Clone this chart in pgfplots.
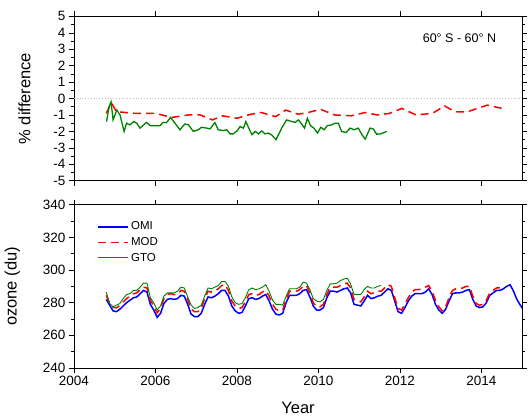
\documentclass[border=0pt]{standalone}
\usepackage{pgfplots}
\pgfplotsset{compat=1.18}
\usepackage{pgfplotstable}
\usepackage{fontspec}
\setmainfont{Liberation Sans}
\definecolor{omiblue}{RGB}{0,0,255}
\definecolor{modred}{RGB}{255,0,0}
\definecolor{gtogreen}{RGB}{0,128,0}

\pgfplotstableread{
t omi mod
2004.792 282.0 284.5
2004.875 278.5 279.5
2004.958 275.0 277.2
2005.042 274.5 276.8
2005.125 276.0 278.3
2005.208 278.0 280.5
2005.292 280.0 282.5
2005.375 281.5 284.0
2005.458 283.0 285.5
2005.542 283.5 286.0
2005.625 285.5 288.0
2005.708 287.5 289.5
2005.792 286.5 289.0
2005.875 279.0 281.5
2005.958 275.5 278.0
2006.042 271.0 273.8
2006.125 273.5 276.5
2006.208 279.5 282.5
2006.292 282.0 285.0
2006.375 282.5 285.5
2006.458 282.0 285.0
2006.542 282.5 285.0
2006.625 284.5 287.5
2006.708 284.0 287.0
2006.792 279.0 282.0
2006.875 273.0 276.0
2006.958 271.5 274.5
2007.042 271.5 274.5
2007.125 273.5 276.5
2007.208 279.0 282.5
2007.292 283.5 287.0
2007.375 283.0 286.5
2007.458 284.0 287.0
2007.542 285.5 288.5
2007.625 287.5 290.5
2007.708 287.5 291.0
2007.792 284.0 287.5
2007.875 278.0 281.0
2007.958 275.0 278.0
2008.042 273.5 276.5
2008.125 274.0 277.0
2008.208 278.0 280.5
2008.292 282.5 285.0
2008.375 283.0 285.5
2008.458 282.0 284.5
2008.542 282.5 285.0
2008.625 284.0 286.5
2008.708 285.0 287.5
2008.792 281.0 284.0
2008.875 276.0 279.0
2008.958 273.0 276.0
2009.042 272.5 275.0
2009.125 273.5 275.5
2009.208 280.0 282.0
2009.292 284.5 287.0
2009.375 284.5 287.0
2009.458 284.5 287.0
2009.542 285.5 288.0
2009.625 287.5 290.0
2009.708 288.0 290.5
2009.792 283.5 286.0
2009.875 278.0 280.0
2009.958 275.5 277.5
2010.042 275.5 277.5
2010.125 277.0 279.0
2010.208 283.0 285.0
2010.292 287.0 289.5
2010.375 287.0 289.5
2010.458 286.5 289.5
2010.542 287.5 290.5
2010.625 288.5 291.5
2010.708 289.0 292.0
2010.792 286.0 289.0
2010.875 279.0 282.0
2010.958 278.5 281.0
2011.042 278.0 280.5
2011.125 281.0 283.5
2011.208 284.5 287.0
2011.292 282.5 285.5
2011.375 283.0 286.0
2011.458 284.0 287.0
2011.542 284.5 287.0
2011.625 286.5 289.0
2011.708 288.5 291.0
2011.792 287.5 290.0
2011.875 281.0 283.0
2011.958 274.5 276.5
2012.042 273.5 275.5
2012.125 277.0 279.0
2012.208 281.0 283.0
2012.292 284.0 286.5
2012.375 285.5 288.0
2012.458 285.5 288.0
2012.542 285.5 288.5
2012.625 286.5 289.5
2012.708 288.5 290.5
2012.792 285.0 287.0
2012.875 279.0 281.5
2012.958 275.5 277.5
2013.042 273.5 275.0
2013.125 276.0 277.5
2013.208 281.0 283.0
2013.292 285.5 287.5
2013.375 286.0 288.5
2013.458 286.0 288.5
2013.542 286.5 289.0
2013.625 287.5 290.0
2013.708 288.0 290.0
2013.792 282.0 284.0
2013.875 278.0 279.5
2013.958 277.0 278.5
2014.042 277.5 279.0
2014.125 280.0 281.5
2014.208 284.5 286.0
2014.292 286.0 287.5
2014.375 287.5 289.0
2014.458 287.5 289.0
2014.542 288.5 nan
2014.625 290.0 nan
2014.708 291.0 nan
2014.792 287.0 nan
2014.875 282.0 nan
2014.958 278.5 nan
2015.042 275.5 nan
}\ozone

\pgfplotstableread{
t gto
2004.792 286.5
2004.875 279.5
2004.958 277.5
2005.042 278.5
2005.125 279.5
2005.208 282.5
2005.292 285.0
2005.375 285.5
2005.458 287.5
2005.542 287.5
2005.625 289.5
2005.708 292.0
2005.792 292.0
2005.875 283.0
2005.958 280.0
2006.042 275.5
2006.125 278.0
2006.208 284.0
2006.292 286.0
2006.375 286.0
2006.458 286.0
2006.542 287.0
2006.625 289.5
2006.708 289.0
2006.792 283.5
2006.875 278.5
2006.958 276.5
2007.042 277.0
2007.125 278.5
2007.208 284.0
2007.292 289.0
2007.375 288.5
2007.458 289.5
2007.542 290.5
2007.625 293.0
2007.708 293.0
2007.792 290.0
2007.875 283.5
2007.958 280.0
2008.042 279.0
2008.125 279.5
2008.208 283.0
2008.292 288.0
2008.375 289.0
2008.458 288.0
2008.542 288.5
2008.625 289.5
2008.708 291.0
2008.792 287.0
2008.875 281.5
2008.958 279.0
2009.042 279.0
2009.125 278.5
2009.208 284.0
2009.292 288.5
2009.375 288.5
2009.458 288.5
2009.542 289.5
2009.625 292.5
2009.708 292.0
2009.792 288.0
2009.875 282.5
2009.958 281.0
2010.042 280.5
2010.125 282.0
2010.208 287.5
2010.292 291.5
2010.375 291.5
2010.458 292.0
2010.542 293.5
2010.625 294.5
2010.708 295.0
2010.792 291.5
2010.875 285.0
2010.958 285.0
2011.042 285.0
2011.125 288.0
2011.208 290.0
2011.292 289.0
2011.375 289.0
2011.458 290.0
2011.542 290.5
}\gtotab

\pgfplotstableread{
t d
2004.792 -0.9
2004.920 -0.25
2005.040 -0.8
2005.500 -0.9
2006.000 -0.9
2006.400 -1.15
2006.800 -1.0
2007.100 -1.0
2007.400 -1.3
2007.650 -1.05
2008.000 -1.2
2008.350 -0.95
2008.600 -0.85
2008.950 -1.1
2009.200 -0.7
2009.500 -0.95
2009.750 -0.85
2010.050 -0.65
2010.400 -1.0
2010.800 -1.05
2011.150 -0.85
2011.450 -1.0
2011.750 -0.9
2012.050 -0.6
2012.400 -1.0
2012.800 -0.9
2013.100 -0.45
2013.350 -0.8
2013.650 -0.82
2013.900 -0.6
2014.150 -0.4
2014.600 -0.65
}\moddiff

\pgfplotstableread{
t d
2004.80 -1.4
2004.86 -0.5
2004.91 -0.2
2004.96 -1.3
2005.05 -0.7
2005.13 -1.0
2005.23 -2.0
2005.29 -1.5
2005.37 -1.6
2005.47 -1.4
2005.54 -1.5
2005.62 -1.8
2005.78 -1.45
2005.88 -1.66
2006.03 -1.66
2006.11 -1.65
2006.19 -1.45
2006.27 -1.47
2006.37 -1.15
2006.48 -1.5
2006.60 -1.9
2006.72 -1.55
2006.81 -1.6
2006.93 -2.0
2007.05 -1.9
2007.13 -1.75
2007.26 -1.8
2007.34 -1.85
2007.46 -1.46
2007.54 -1.9
2007.67 -1.95
2007.75 -1.9
2007.83 -2.15
2007.91 -2.15
2008.01 -1.95
2008.08 -1.7
2008.16 -1.8
2008.22 -1.4
2008.31 -1.9
2008.37 -2.2
2008.45 -2.0
2008.53 -2.15
2008.61 -1.97
2008.69 -2.15
2008.77 -2.1
2008.85 -2.2
2008.96 -2.5
2009.10 -1.8
2009.22 -1.3
2009.35 -1.4
2009.43 -1.45
2009.51 -1.3
2009.59 -1.55
2009.66 -1.8
2009.73 -1.2
2009.81 -1.66
2009.89 -1.8
2009.98 -2.1
2010.06 -1.75
2010.14 -1.9
2010.22 -1.65
2010.33 -1.6
2010.41 -1.5
2010.49 -1.5
2010.57 -2.0
2010.68 -2.07
2010.78 -1.8
2010.88 -1.9
2010.98 -1.8
2011.07 -2.2
2011.15 -2.47
2011.27 -1.8
2011.35 -1.85
2011.43 -2.17
2011.53 -2.15
2011.61 -2.07
2011.68 -2.0
}\gtodiff

\begin{document}
\begin{tikzpicture}
\useasboundingbox (-74pt,-50pt) rectangle (457pt,368pt);
\pgfplotsset{
  myax/.style={
    scale only axis,
    width=448pt,
    xmin=2004, xmax=2015,
    xtick={2004,2006,...,2014},
    minor x tick num=1,
    tick align=outside,
    major tick length=5pt,
    minor tick length=3pt,
    tick style={black, line width=0.6pt},
    axis line style={line width=0.8pt},
    tick label style={font=\fontsize{13.5}{15}\selectfont},
    label style={font=\fontsize{16.5}{19}\selectfont},
    ylabel style={yshift=16pt},
    /pgf/number format/assume math mode=true,
    /pgf/number format/1000 sep={},
    clip=true,
  }
}
% bottom panel
\begin{axis}[myax,
  at={(0pt,0pt)}, anchor=south west,
  height=163.3pt,
  ymin=240, ymax=340,
  ytick={240,260,...,340},
  minor y tick num=1,
  xlabel={Year},
  ylabel={ozone (du)},
  xlabel style={yshift=-9pt},
  legend style={draw=none, fill=none, at={(0.045,0.92)}, anchor=north west,
    font=\fontsize{11.5}{13}\selectfont, row sep=2pt},
  legend cell align=left,
  legend image code/.code={\draw[#1] (0pt,0pt) -- (30pt,0pt);},
]
\addlegendimage{color=omiblue, line width=1.8pt}
\addlegendentry{OMI}
\addlegendimage{color=modred, line width=1.5pt, dash pattern=on 8pt off 5pt}
\addlegendentry{MOD}
\addlegendimage{color=gtogreen, line width=0.9pt}
\addlegendentry{GTO}
\addplot[color=omiblue, line width=1.5pt, unbounded coords=jump, forget plot] table[x=t,y=omi] {\ozone};
\addplot[color=modred, line width=1.5pt, dash pattern=on 8pt off 5pt, unbounded coords=jump, forget plot] table[x=t,y=mod] {\ozone};
\addplot[color=gtogreen, line width=0.9pt, forget plot] table[x=t,y=gto] {\gtotab};
\end{axis}
% top panel
\begin{axis}[myax,
  at={(0pt,187.3pt)}, anchor=south west,
  height=164.3pt,
  ymin=-5, ymax=5,
  ytick={-5,-4,...,5},
  minor y tick num=1,
  xticklabels={},
  ylabel={\% difference},
]
\addplot[gray!50, dotted, line width=0.8pt, forget plot] coordinates {(2004,0) (2015,0)};
\addplot[color=modred, line width=1.5pt, dash pattern=on 8pt off 5pt] table[x=t,y=d] {\moddiff};
\addplot[color=gtogreen, line width=1.3pt] table[x=t,y=d] {\gtodiff};
\node[anchor=east, font=\fontsize{12.5}{14}\selectfont] at (axis cs:2014.45,3.7) {60° S - 60° N};
\end{axis}
\end{tikzpicture}
\end{document}
